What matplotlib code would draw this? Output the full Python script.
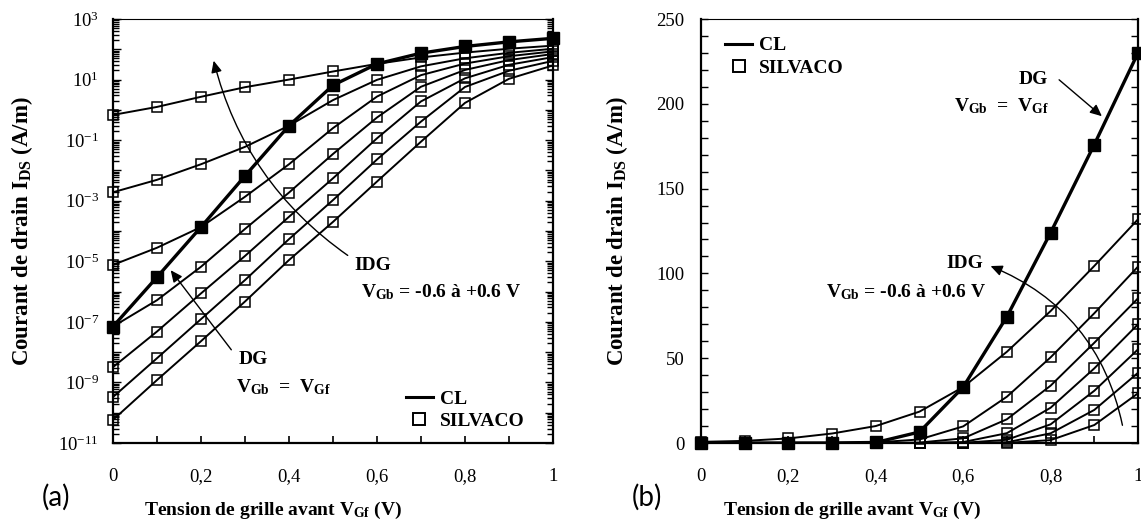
import numpy as np
import matplotlib
matplotlib.use("Agg")
import matplotlib.pyplot as plt
from matplotlib.lines import Line2D
from matplotlib.patches import FancyArrowPatch
from matplotlib.ticker import FixedLocator, MultipleLocator, FuncFormatter, LogLocator, NullFormatter

plt.rcParams['font.family'] = ['Liberation Serif', 'DejaVu Serif']
plt.rcParams['mathtext.fontset'] = 'custom'
plt.rcParams['mathtext.rm'] = 'Liberation Serif'
plt.rcParams['mathtext.bf'] = 'Liberation Serif:bold'
plt.rcParams['mathtext.it'] = 'Liberation Serif:italic'

# ---------------- data ----------------
vgf = [0.0, 0.1, 0.2, 0.3, 0.4, 0.5, 0.6, 0.7, 0.8, 0.9, 1.0]

# DG mode (V_Gb = V_Gf)
ids_dg = [7e-8, 3e-6, 1.35e-4, 6.6e-3, 0.3, 6.5, 33, 74.5, 124, 176, 230]

# IDG mode, V_Gb = +0.6 ... -0.6 V
vgb_values = [0.6, 0.4, 0.2, 0.0, -0.2, -0.4, -0.6]
ids_idg_p06 = [0.68, 1.25, 2.7, 5.6, 10, 18.5, 33, 53.8, 77.8, 104.4, 131.9]
ids_idg_p04 = [1.9e-3, 4.9e-3, 0.016, 0.06, 0.3, 2.1, 9.8, 27.3, 50.5, 76.5, 104]
ids_idg_p02 = [7.6e-6, 2.8e-5, 1.35e-4, 1.35e-3, 0.016, 0.25, 2.75, 14.0, 33.8, 59.1, 85.3]
ids_idg_00 = [7e-8, 5.2e-7, 6.6e-6, 1.17e-4, 1.86e-3, 0.035, 0.56, 5.8, 20.8, 44.0, 70]
ids_idg_m02 = [3.2e-9, 4.8e-8, 8.7e-7, 1.5e-5, 2.95e-4, 5.5e-3, 0.115, 1.9, 11.0, 30.8, 55.2]
ids_idg_m04 = [3.3e-10, 6.3e-9, 1.23e-7, 2.4e-6, 5.4e-5, 1.05e-3, 0.023, 0.41, 5.7, 19.5, 41.4]
ids_idg_m06 = [5.8e-11, 1.2e-9, 2.3e-8, 4.7e-7, 1.1e-5, 2.0e-4, 4.3e-3, 0.089, 1.7, 10.6, 29.3]
idg_series = [ids_idg_p06, ids_idg_p04, ids_idg_p02, ids_idg_00,
              ids_idg_m02, ids_idg_m04, ids_idg_m06]

xticks_major = [0, 0.2, 0.4, 0.6, 0.8, 1.0]
xtick_labels = ['0', '0,2', '0,4', '0,6', '0,8', '1']

# ---------------- figure ----------------
W, H = 1141, 525
fig = plt.figure(figsize=(W / 100, H / 100), dpi=100)


def frac_rect(x0, y0, x1, y1):
    return [x0 / W, 1 - y1 / H, (x1 - x0) / W, (y1 - y0) / H]


axL = fig.add_axes(frac_rect(113, 19, 553, 443))
axR = fig.add_axes(frac_rect(701, 19, 1138, 443))

xlabel = r'Tension de grille avant V$_{\mathbf{Gf}}$ (V)'
ylabel = r'Courant de drain I$_{\mathbf{DS}}$ (A/m)'

for ax in (axL, axR):
    # IDG curves
    for s in idg_series:
        ax.plot(vgf, s, color='black', lw=1.4, zorder=3)
        ax.plot(vgf, s, ls='none', marker='s', ms=6.8, mfc='none', mec='black',
                mew=1.1, zorder=4, clip_on=False)
    # DG curve
    ax.plot(vgf, ids_dg, color='black', lw=2.4, zorder=5)
    ax.plot(vgf, ids_dg, ls='none', marker='s', ms=8.3, mfc='black', mec='black',
            zorder=6, clip_on=False)

    ax.set_xlim(0, 1)
    ax.xaxis.set_major_locator(FixedLocator(xticks_major))
    ax.set_xticklabels(xtick_labels)
    ax.xaxis.set_minor_locator(MultipleLocator(0.1))
    ax.tick_params(axis='x', which='both', direction='in', top=False, bottom=True,
                   length=5, width=1.2, pad=18, labelsize=13.5)
    ax.tick_params(axis='y', which='both', direction='in', left=True, right=True,
                   width=1.0, labelsize=13.5)
    ax.tick_params(axis='y', which='major', length=6)
    ax.tick_params(axis='y', which='minor', length=4)
    for sp in ('left', 'bottom', 'right'):
        ax.spines[sp].set_linewidth(1.6)
    ax.spines['top'].set_linewidth(0.8)
    ax.set_xlabel(xlabel, fontsize=14, fontweight='bold')
    ax.set_ylabel(ylabel, fontsize=16.5, fontweight='bold')

axL.xaxis.set_label_coords((273 - 113) / 440, -0.135)
axR.xaxis.set_label_coords((852 - 701) / 437, -0.135)

# ---- left: log scale ----
axL.set_yscale('log')
axL.set_ylim(1e-11, 1e3)
axL.yaxis.set_major_locator(FixedLocator([10.0 ** k for k in range(-11, 4)]))


def logfmt(v, pos):
    k = int(round(np.log10(v)))
    if k % 2 == 0:
        return ''
    return r'$\mathdefault{10^{%d}}$' % k


axL.yaxis.set_major_formatter(FuncFormatter(logfmt))
axL.yaxis.set_minor_locator(LogLocator(base=10, subs=np.arange(2, 10), numticks=100))
axL.yaxis.set_minor_formatter(NullFormatter())
axL.tick_params(axis='y', pad=10)
axL.yaxis.set_label_coords(-0.177, 0.5)

# ---- right: linear ----
axR.set_ylim(0, 250)
axR.yaxis.set_major_locator(MultipleLocator(50))
axR.yaxis.set_minor_locator(MultipleLocator(10))
axR.tick_params(axis='y', which='both', length=5, pad=12)
axR.yaxis.set_label_coords(-0.163, 0.5)

# ---------------- legends ----------------
h_cl = Line2D([], [], color='black', lw=2.2)
h_sv = Line2D([], [], ls='none', marker='s', ms=8, mfc='none', mec='black', mew=1.4)
leg_prop = dict(family='Liberation Serif', weight='bold', size=14)
axL.legend([h_cl, h_sv], ['CL', 'SILVACO'], loc='lower left',
           bbox_to_anchor=(0.665, 0.03), frameon=False, prop=leg_prop,
           handlelength=1.4, handletextpad=0.35, labelspacing=0.25,
           borderpad=0, borderaxespad=0)
axR.legend([h_cl, h_sv], ['CL', 'SILVACO'], loc='upper left',
           bbox_to_anchor=(0.055, 0.958), frameon=False, prop=leg_prop,
           handlelength=1.4, handletextpad=0.35, labelspacing=0.25,
           borderpad=0, borderaxespad=0)

# ---------------- annotations ----------------
ann = dict(fontsize=14, fontweight='bold', va='center')
vgb_range = r'V$_{\mathbf{Gb}}$ = -0.6 à +0.6 V'
vgb_eq = r'V$_{\mathbf{Gb}}$  =  V$_{\mathbf{Gf}}$'


def fx(ax, px, py):
    # pixel -> axes fraction
    bb = ax.get_position()
    x0, x1 = bb.x0 * W, bb.x1 * W
    y0, y1 = (1 - bb.y1) * H, (1 - bb.y0) * H
    return ((px - x0) / (x1 - x0), (y1 - py) / (y1 - y0))


# left panel
axL.text(*fx(axL, 354, 266), 'IDG', transform=axL.transAxes, ha='left', **ann)
axL.text(*fx(axL, 361, 292), vgb_range, transform=axL.transAxes, ha='left', **ann)
axL.text(*fx(axL, 239, 359), 'DG', transform=axL.transAxes, ha='left', **ann)
axL.text(*fx(axL, 236, 387), vgb_eq, transform=axL.transAxes, ha='left', **ann)

arrow_kw = dict(arrowstyle='-|>,head_length=7,head_width=3.2', color='black',
                lw=1.0, mutation_scale=1, zorder=7)
axL.add_patch(FancyArrowPatch(fx(axL, 350, 257), fx(axL, 213, 58),
                              transform=axL.transAxes,
                              connectionstyle='arc3,rad=-0.19', **arrow_kw))
axL.add_patch(FancyArrowPatch(fx(axL, 233, 352), fx(axL, 169, 268),
                              transform=axL.transAxes, **arrow_kw))

# right panel
axR.text(*fx(axR, 1048, 79), 'DG', transform=axR.transAxes, ha='right', **ann)
axR.text(*fx(axR, 1049, 106), vgb_eq, transform=axR.transAxes, ha='right', **ann)
axR.text(*fx(axR, 983, 264), 'IDG', transform=axR.transAxes, ha='right', **ann)
axR.text(*fx(axR, 986, 292), vgb_range, transform=axR.transAxes, ha='right', **ann)
axR.add_patch(FancyArrowPatch(fx(axR, 1057, 78), fx(axR, 1104, 118),
                              transform=axR.transAxes, **arrow_kw))
axR.add_patch(FancyArrowPatch(fx(axR, 1123, 428), fx(axR, 988, 265),
                              transform=axR.transAxes,
                              connectionstyle='arc3,rad=0.27', **arrow_kw))

# panel labels
fig.text(42 / W, 1 - 497 / H, '(a)', fontsize=20, family='Lato', va='center', ha='left')
fig.text(632 / W, 1 - 497 / H, '(b)', fontsize=20, family='Lato', va='center', ha='left')

fig.savefig('out.png', dpi=100)
